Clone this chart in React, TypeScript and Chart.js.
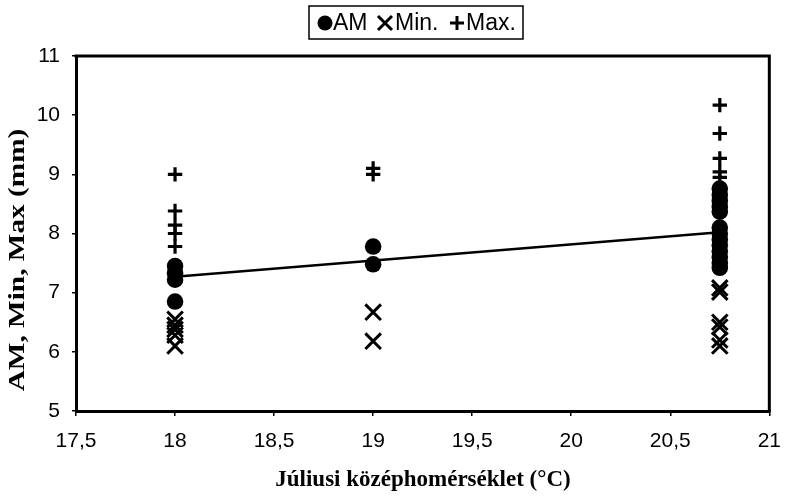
import React, { useEffect, useRef } from "react";
import { Chart, registerables } from "chart.js";

Chart.register(...registerables);

// ---- data ----
const seriesLabels = ["AM", "Min.", "Max."];
const temperatures = [18, 19, 20.75];
const amValues = [
  [7.45, 7.33, 7.22, 6.85],
  [7.78, 7.48],
  [8.76, 8.65, 8.55, 8.45, 8.37, 8.1, 8.0, 7.9, 7.8, 7.7, 7.6, 7.5, 7.42],
];
const minValues = [
  [6.55, 6.45, 6.38, 6.28, 6.1],
  [6.67, 6.18],
  [7.08, 7.01, 6.5, 6.42, 6.2, 6.1],
];
const maxValues = [
  [9.0, 8.38, 8.14, 8.0, 7.78],
  [9.1, 9.0],
  [10.17, 9.69, 9.27, 9.04, 8.95],
];
const trendX = [18, 20.75];
const trendY = [7.27, 8.02];
const xRange = [17.5, 21];
const yRange = [5, 11];
const xTitle = "Júliusi középhomérséklet (°C)";
const yTitle = "AM, Min, Max (mm)";

const toPoints = (groups: number[][]) =>
  groups.flatMap((vals, i) => vals.map((v) => ({ x: temperatures[i], y: v })));

const SANS = "'Liberation Sans', Arial, sans-serif";
const SERIF = "'Liberation Serif', 'Times New Roman', serif";

const decorPlugin = {
  id: "decor",
  afterDraw(chart: any) {
    const { ctx, chartArea } = chart;
    const { left, right, top, bottom } = chartArea;
    ctx.save();
    // frame top & right
    ctx.strokeStyle = "#000";
    ctx.lineWidth = 3;
    ctx.beginPath();
    ctx.moveTo(left - 1.5, top);
    ctx.lineTo(right, top);
    ctx.lineTo(right, bottom + 1.5);
    ctx.stroke();

    // axis titles
    ctx.fillStyle = "#000";
    ctx.textAlign = "center";
    ctx.textBaseline = "middle";
    ctx.font = `bold 23px ${SERIF}`;
    ctx.fillText(xTitle, 423, 480);
    ctx.save();
    ctx.translate(18, 260);
    ctx.rotate(-Math.PI / 2);
    ctx.scale(1.22, 1);
    ctx.font = `bold 24px ${SERIF}`;
    ctx.fillText(yTitle, 0, 0);
    ctx.restore();

    // legend box
    ctx.font = `23px ${SANS}`;
    ctx.textAlign = "left";
    const cy = 23;
    // marker 1: circle
    ctx.beginPath();
    ctx.arc(325, cy, 7.5, 0, Math.PI * 2);
    ctx.fill();
    ctx.fillText(seriesLabels[0], 333, cy + 1);
    // marker 2: x
    ctx.lineWidth = 3;
    ctx.beginPath();
    ctx.moveTo(378, cy - 7);
    ctx.lineTo(392, cy + 7);
    ctx.moveTo(392, cy - 7);
    ctx.lineTo(378, cy + 7);
    ctx.stroke();
    ctx.fillText(seriesLabels[1], 395, cy + 1);
    // marker 3: plus
    ctx.beginPath();
    ctx.moveTo(450, cy);
    ctx.lineTo(464, cy);
    ctx.moveTo(457, cy - 7);
    ctx.lineTo(457, cy + 7);
    ctx.stroke();
    ctx.fillText(seriesLabels[2], 466, cy + 1);
    ctx.lineWidth = 1.5;
    ctx.strokeRect(309, 6, 214, 33);
    ctx.restore();
  },
};

export default function App() {
  const ref = useRef<HTMLCanvasElement>(null);
  useEffect(() => {
    if (!ref.current) return;
    Chart.defaults.font.family = SANS;
    Chart.defaults.color = "#000";
    const chart = new Chart(ref.current, {
      type: "scatter",
      data: {
        datasets: [
          {
            type: "line",
            label: "trend",
            data: trendX.map((x, i) => ({ x, y: trendY[i] })),
            borderColor: "#000",
            borderWidth: 2.5,
            pointRadius: 0,
            fill: false,
          } as any,
          {
            label: seriesLabels[0],
            data: toPoints(amValues),
            pointStyle: "circle",
            pointRadius: 8.3,
            backgroundColor: "#000",
            borderColor: "#000",
            borderWidth: 0,
          },
          {
            label: seriesLabels[1],
            data: toPoints(minValues),
            pointStyle: "crossRot",
            pointRadius: 11,
            borderColor: "#000",
            borderWidth: 3,
          },
          {
            label: seriesLabels[2],
            data: toPoints(maxValues),
            pointStyle: "cross",
            pointRadius: 7.2,
            borderColor: "#000",
            borderWidth: 3.2,
          },
        ],
      },
      options: {
        animation: false,
        responsive: false,
        maintainAspectRatio: false,
        layout: { padding: { top: 56, right: 16, left: 0, bottom: 0 } },
        plugins: { legend: { display: false }, tooltip: { enabled: false } },
        scales: {
          x: {
            type: "linear",
            min: xRange[0],
            max: xRange[1],
            afterFit: (s: any) => {
              s.height = 87;
            },
            ticks: {
              stepSize: 0.5,
              padding: 13,
              font: { size: 21 },
              color: "#000",
              callback: (v: any) => String(v).replace(".", ","),
            },
            grid: { drawOnChartArea: false, drawTicks: true, tickLength: 5, color: "#000", lineWidth: 1.5 },
            border: { display: true, color: "#000", width: 3 },
          },
          y: {
            min: yRange[0],
            max: yRange[1],
            afterFit: (s: any) => {
              s.width = 76;
            },
            ticks: { stepSize: 1, padding: 12, font: { size: 21 }, color: "#000" },
            grid: { drawOnChartArea: false, drawTicks: true, tickLength: 4, color: "#000", lineWidth: 1.5 },
            border: { display: true, color: "#000", width: 3 },
          },
        },
      },
      plugins: [decorPlugin],
    });
    return () => chart.destroy();
  }, []);
  return (
    <div style={{ position: "fixed", left: 0, top: 0, width: 794, height: 498, background: "#fff" }}>
      <canvas ref={ref} width={794} height={498} style={{ width: 794, height: 498, display: "block" }} />
    </div>
  );
}
